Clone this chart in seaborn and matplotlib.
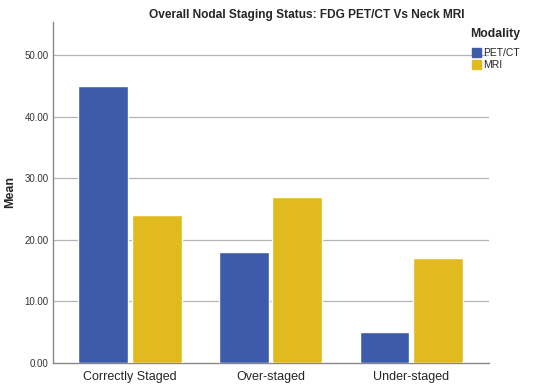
import matplotlib
matplotlib.use('Agg')
import matplotlib.pyplot as plt
import pandas as pd
import seaborn as sns

categories = ['Correctly Staged', 'Over-staged', 'Under-staged']
modalities = ['PET/CT', 'MRI']
pet_ct = [45, 18, 5]
mri = [24, 27, 17]
yticks = [0, 10, 20, 30, 40, 50]

df = pd.DataFrame({
    'Status': categories * 2,
    'Modality': ['PET/CT'] * 3 + ['MRI'] * 3,
    'Mean': pet_ct + mri,
})

sns.set_style('white')
plt.rcParams['font.family'] = ['Liberation Sans', 'DejaVu Sans']

fig = plt.figure(figsize=(5.5, 3.89), dpi=100)
ax = fig.add_axes([0.0964, 0.067, 0.7927, 0.877])
palette = {'PET/CT': '#3E5BAA', 'MRI': '#E1BA1E'}
sns.barplot(data=df, x='Status', y='Mean', hue='Modality', hue_order=modalities,
            palette=palette, width=0.76, gap=0.07, saturation=1, ax=ax,
            legend=False, zorder=3)

ax.set_xlim(-0.548, 2.555)
ax.set_ylim(0, 55.4)
ax.set_yticks(yticks)
ax.set_yticklabels([f'{v:.2f}' for v in yticks], fontsize=7, color='#333333')
ax.tick_params(axis='x', labelsize=9, length=0, pad=6)
ax.tick_params(axis='y', length=0, pad=3)
for v in yticks[1:]:
    ax.axhline(v, color='#b4b4b4', lw=0.9, zorder=1)
ax.set_xlabel('')
ax.set_ylabel('Mean', fontsize=9, fontweight='bold', labelpad=6)
for s in ['top', 'right']:
    ax.spines[s].set_visible(False)
for s in ['left', 'bottom']:
    ax.spines[s].set_color('#888888')
    ax.spines[s].set_linewidth(1.0)

fig.text(0.558, 0.962, 'Overall Nodal Staging Status: FDG PET/CT Vs Neck MRI',
         ha='center', va='center', fontsize=8.6, fontweight='bold')
fig.text(0.855, 0.912, 'Modality', ha='left', va='center', fontsize=8.8,
         fontweight='bold')
for i, m in enumerate(modalities):
    y = 0.865 - i * 0.031
    fig.patches.append(plt.Rectangle((0.858, y - 0.012), 0.017, 0.024,
                                     transform=fig.transFigure,
                                     color=palette[m], figure=fig))
    fig.text(0.878, y, m, ha='left', va='center', fontsize=7.5)

fig.savefig('out.png', dpi=100)
